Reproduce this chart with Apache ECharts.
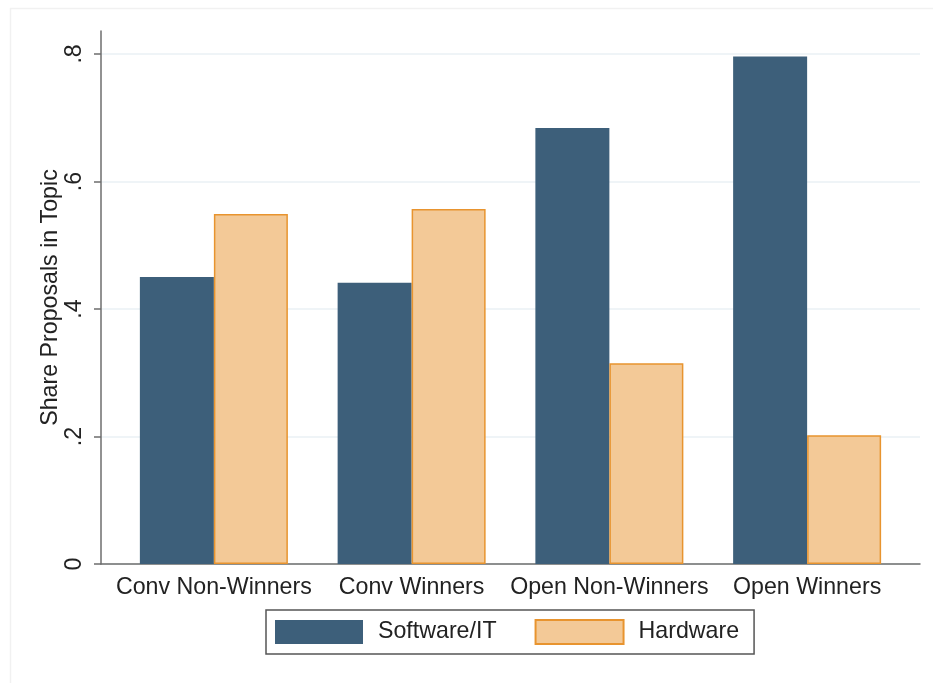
<!DOCTYPE html>
<html>
<head>
<meta charset="utf-8">
<script src="https://cdn.jsdelivr.net/npm/echarts@6/dist/echarts.min.js"></script>
<style>
  html, body { margin: 0; padding: 0; background: #fff; }
  #main { width: 933px; height: 683px; }
</style>
</head>
<body>
<div id="main"></div>
<script>
// data
var categories = ["Conv Non-Winners", "Conv Winners", "Open Non-Winners", "Open Winners"];
var softwareIT = [0.450, 0.441, 0.684, 0.796];
var hardware = [0.549, 0.557, 0.315, 0.202];
var yTicks = [0, 0.2, 0.4, 0.6, 0.8];

var font = "Liberation Sans, Arial, sans-serif";
var fs = 23.2;
var yMax = 0.836;

var myChart = echarts.init(document.getElementById("main"));

var option = {
  backgroundColor: "#fff",
  animation: false,
  textStyle: { fontFamily: font },
  graphic: [
    {
      // faint outer frame
      type: "rect",
      left: 8,
      top: 6,
      shape: { width: 960, height: 720 },
      style: { fill: "none", stroke: "#f1f1f1", lineWidth: 1.5 },
      silent: true
    }
  ],
  legend: {
    left: 266,
    top: 610,
    orient: "horizontal",
    icon: "rect",
    itemWidth: 88,
    itemHeight: 24,
    itemGap: 38,
    padding: [9, 15, 9, 9],
    borderColor: "#555",
    borderWidth: 1.5,
    borderRadius: 0,
    textStyle: {
      fontSize: fs,
      color: "#222",
      fontFamily: font,
      padding: [0, 0, 0, 10]
    },
    data: ["Software/IT", "Hardware"]
  },
  grid: [
    // bars
    { left: 115, right: 27, top: 31, bottom: 119 },
    // axes frame
    { left: 101, right: 13, top: 31, bottom: 119 }
  ],
  xAxis: [
    {
      type: "category",
      gridIndex: 0,
      data: categories,
      axisLine: { show: false },
      axisTick: { show: false },
      axisLabel: {
        fontSize: fs,
        color: "#222",
        margin: 12,
        interval: 0,
        fontFamily: font
      }
    },
    {
      type: "category",
      gridIndex: 1,
      data: categories,
      axisLine: { show: true, lineStyle: { color: "#6e6e6e", width: 1.5 } },
      axisTick: { show: false },
      axisLabel: { show: false }
    }
  ],
  yAxis: [
    {
      type: "value",
      gridIndex: 0,
      min: 0,
      max: yMax,
      show: false
    },
    {
      type: "value",
      gridIndex: 1,
      min: 0,
      max: yMax,
      interval: 0.2,
      name: "Share Proposals in Topic",
      nameLocation: "middle",
      nameGap: 39,
      nameMoveOverlap: false,
      nameTextStyle: { fontSize: fs, color: "#222", fontFamily: font },
      axisLine: { show: true, lineStyle: { color: "#6e6e6e", width: 1.5 } },
      axisTick: {
        show: true,
        length: 7,
        customValues: yTicks,
        lineStyle: { color: "#6e6e6e", width: 1.5 }
      },
      axisLabel: {
        customValues: yTicks,
        rotate: 90,
        margin: 15,
        fontSize: fs,
        color: "#222",
        fontFamily: font,
        formatter: function (v) {
          if (v === 0) return "0";
          return String(Math.round(v * 10) / 10).replace(/^0/, "");
        }
      },
      splitLine: {
        show: true,
        customValues: yTicks,
        lineStyle: { color: "#eaf0f4", width: 1.5 }
      }
    }
  ],
  series: [
    {
      name: "Software/IT",
      type: "bar",
      xAxisIndex: 0,
      yAxisIndex: 0,
      barWidth: 74,
      barGap: "0%",
      data: softwareIT,
      itemStyle: { color: "#3d5f7a" }
    },
    {
      name: "Hardware",
      type: "bar",
      xAxisIndex: 0,
      yAxisIndex: 0,
      barWidth: 74,
      barGap: "0%",
      data: hardware,
      itemStyle: { color: "#f3c997", borderColor: "#e8942f", borderWidth: 1.5 }
    }
  ]
};

myChart.setOption(option);
</script>
</body>
</html>
